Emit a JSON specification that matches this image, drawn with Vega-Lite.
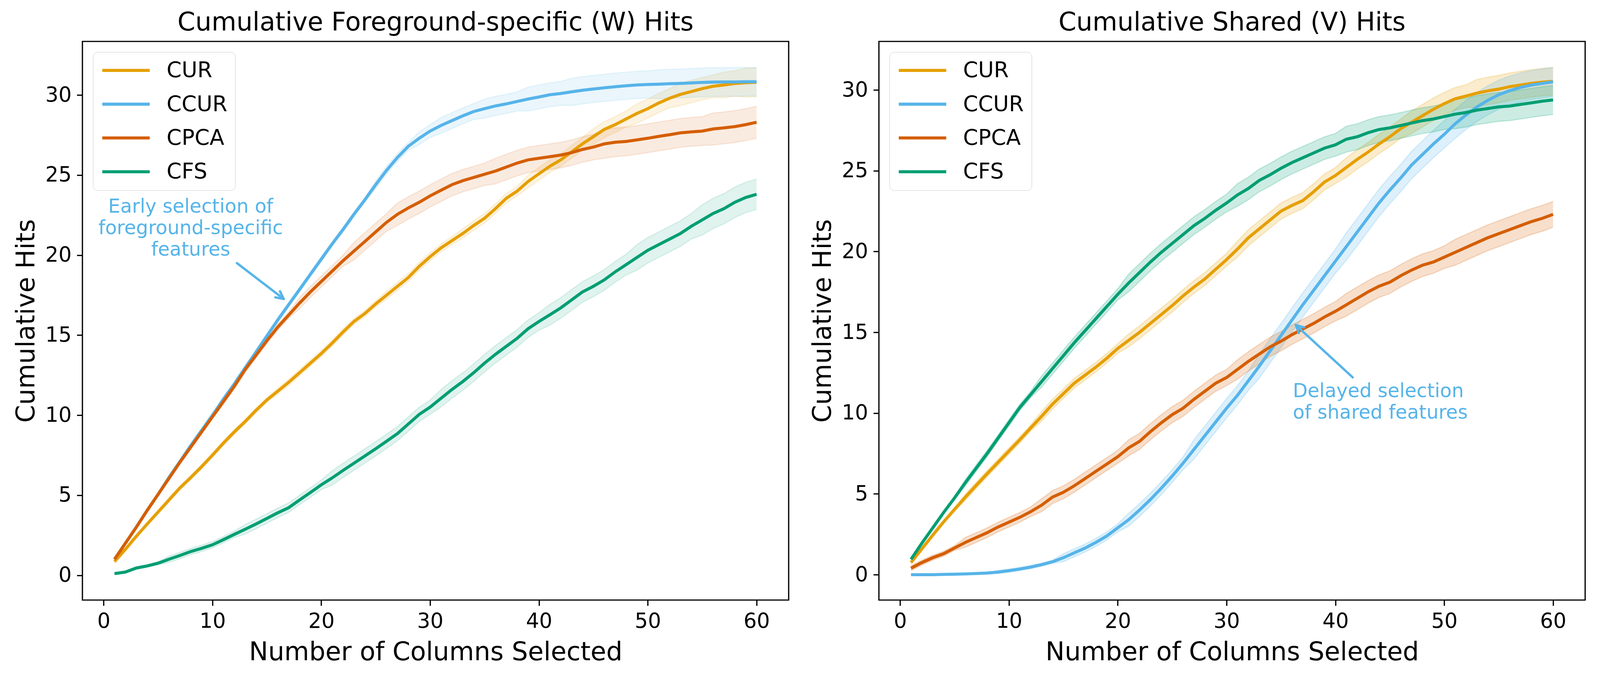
{
  "$schema": "https://vega.github.io/schema/vega-lite/v6.json",
  "padding": {"left": 34, "top": 24, "right": 40, "bottom": 35},
  "spacing": 52,
  "config": {
    "font": "DejaVu Sans",
    "view": {"stroke": "#000000", "strokeWidth": 3.2},
    "axis": {"domain": false, "grid": false, "ticks": true, "tickColor": "#000000", "tickSize": 14.3, "tickWidth": 3.2, "labelFontSize": 53, "labelColor": "#000000", "labelPadding": 13.7, "labelFont": "DejaVu Sans", "labelOverlap": false, "labelFlush": false, "titleFontSize": 65.4, "titleFontWeight": "normal", "titleColor": "#000000", "titleFont": "DejaVu Sans"},
    "axisX": {"titlePadding": 20.6},
    "axisY": {"titlePadding": 13.7},
    "title": {"fontSize": 65.4, "fontWeight": "normal", "font": "DejaVu Sans", "color": "#000000", "offset": 14.6, "anchor": "middle"},
    "legend": {"orient": "top-left", "offset": 27.4, "symbolType": "stroke", "symbolStrokeWidth": 7.8, "symbolSize": 14762, "labelFontSize": 55, "labelFont": "DejaVu Sans", "labelColor": "#000000", "labelOffset": 39, "padding": 19.6, "clipHeight": 55, "rowPadding": 30.4, "fillColor": "#ffffff", "strokeColor": "#cccccc", "cornerRadius": 12}
  },
  "resolve": {"scale": {"x": "independent", "y": "independent", "color": "independent"}, "legend": {"color": "independent"}},
  "datasets": {
    "W": [
      {"s":"CUR","x":1,"y":0.85,"e":0.1},{"s":"CUR","x":2,"y":1.62,"e":0.1},{"s":"CUR","x":3,"y":2.43,"e":0.1},{"s":"CUR","x":4,"y":3.2,"e":0.1},{"s":"CUR","x":5,"y":3.95,"e":0.1},
      {"s":"CUR","x":6,"y":4.7,"e":0.15},{"s":"CUR","x":7,"y":5.45,"e":0.15},{"s":"CUR","x":8,"y":6.1,"e":0.15},{"s":"CUR","x":9,"y":6.78,"e":0.15},{"s":"CUR","x":10,"y":7.5,"e":0.15},
      {"s":"CUR","x":11,"y":8.25,"e":0.15},{"s":"CUR","x":12,"y":8.95,"e":0.15},{"s":"CUR","x":13,"y":9.6,"e":0.15},{"s":"CUR","x":14,"y":10.3,"e":0.15},{"s":"CUR","x":15,"y":10.95,"e":0.15},
      {"s":"CUR","x":16,"y":11.5,"e":0.2},{"s":"CUR","x":17,"y":12.05,"e":0.2},{"s":"CUR","x":18,"y":12.65,"e":0.2},{"s":"CUR","x":19,"y":13.25,"e":0.2},{"s":"CUR","x":20,"y":13.85,"e":0.2},
      {"s":"CUR","x":21,"y":14.5,"e":0.2},{"s":"CUR","x":22,"y":15.2,"e":0.2},{"s":"CUR","x":23,"y":15.85,"e":0.2},{"s":"CUR","x":24,"y":16.35,"e":0.2},{"s":"CUR","x":25,"y":16.95,"e":0.2},
      {"s":"CUR","x":26,"y":17.5,"e":0.25},{"s":"CUR","x":27,"y":18.05,"e":0.25},{"s":"CUR","x":28,"y":18.6,"e":0.25},{"s":"CUR","x":29,"y":19.3,"e":0.25},{"s":"CUR","x":30,"y":19.9,"e":0.25},
      {"s":"CUR","x":31,"y":20.45,"e":0.25},{"s":"CUR","x":32,"y":20.9,"e":0.25},{"s":"CUR","x":33,"y":21.35,"e":0.3},{"s":"CUR","x":34,"y":21.85,"e":0.3},{"s":"CUR","x":35,"y":22.3,"e":0.3},
      {"s":"CUR","x":36,"y":22.9,"e":0.3},{"s":"CUR","x":37,"y":23.55,"e":0.3},{"s":"CUR","x":38,"y":24.0,"e":0.3},{"s":"CUR","x":39,"y":24.6,"e":0.4},{"s":"CUR","x":40,"y":25.08,"e":0.4},
      {"s":"CUR","x":41,"y":25.55,"e":0.4},{"s":"CUR","x":42,"y":25.95,"e":0.4},{"s":"CUR","x":43,"y":26.45,"e":0.4},{"s":"CUR","x":44,"y":26.95,"e":0.4},{"s":"CUR","x":45,"y":27.4,"e":0.5},
      {"s":"CUR","x":46,"y":27.85,"e":0.5},{"s":"CUR","x":47,"y":28.15,"e":0.5},{"s":"CUR","x":48,"y":28.5,"e":0.5},{"s":"CUR","x":49,"y":28.85,"e":0.6},{"s":"CUR","x":50,"y":29.15,"e":0.6},
      {"s":"CUR","x":51,"y":29.5,"e":0.6},{"s":"CUR","x":52,"y":29.8,"e":0.6},{"s":"CUR","x":53,"y":30.04,"e":0.7},{"s":"CUR","x":54,"y":30.22,"e":0.7},{"s":"CUR","x":55,"y":30.4,"e":0.7},
      {"s":"CUR","x":56,"y":30.55,"e":0.7},{"s":"CUR","x":57,"y":30.63,"e":0.8},{"s":"CUR","x":58,"y":30.72,"e":0.8},{"s":"CUR","x":59,"y":30.77,"e":0.9},{"s":"CUR","x":60,"y":30.8,"e":0.9},

      {"s":"CCUR","x":1,"y":1.0,"e":0.05},{"s":"CCUR","x":2,"y":2.0,"e":0.05},{"s":"CCUR","x":3,"y":3.0,"e":0.05},{"s":"CCUR","x":4,"y":4.05,"e":0.05},{"s":"CCUR","x":5,"y":5.05,"e":0.05},
      {"s":"CCUR","x":6,"y":6.1,"e":0.08},{"s":"CCUR","x":7,"y":7.1,"e":0.08},{"s":"CCUR","x":8,"y":8.1,"e":0.08},{"s":"CCUR","x":9,"y":9.05,"e":0.08},{"s":"CCUR","x":10,"y":10.0,"e":0.08},
      {"s":"CCUR","x":11,"y":11.0,"e":0.1},{"s":"CCUR","x":12,"y":11.95,"e":0.1},{"s":"CCUR","x":13,"y":12.95,"e":0.1},{"s":"CCUR","x":14,"y":13.95,"e":0.1},{"s":"CCUR","x":15,"y":14.95,"e":0.1},
      {"s":"CCUR","x":16,"y":15.95,"e":0.15},{"s":"CCUR","x":17,"y":16.9,"e":0.15},{"s":"CCUR","x":18,"y":17.85,"e":0.15},{"s":"CCUR","x":19,"y":18.8,"e":0.15},{"s":"CCUR","x":20,"y":19.75,"e":0.15},
      {"s":"CCUR","x":21,"y":20.7,"e":0.15},{"s":"CCUR","x":22,"y":21.6,"e":0.15},{"s":"CCUR","x":23,"y":22.55,"e":0.15},{"s":"CCUR","x":24,"y":23.45,"e":0.15},{"s":"CCUR","x":25,"y":24.4,"e":0.25},
      {"s":"CCUR","x":26,"y":25.3,"e":0.25},{"s":"CCUR","x":27,"y":26.1,"e":0.25},{"s":"CCUR","x":28,"y":26.8,"e":0.25},{"s":"CCUR","x":29,"y":27.3,"e":0.4},{"s":"CCUR","x":30,"y":27.75,"e":0.4},
      {"s":"CCUR","x":31,"y":28.1,"e":0.5},{"s":"CCUR","x":32,"y":28.4,"e":0.5},{"s":"CCUR","x":33,"y":28.7,"e":0.5},{"s":"CCUR","x":34,"y":28.97,"e":0.5},{"s":"CCUR","x":35,"y":29.15,"e":0.6},
      {"s":"CCUR","x":36,"y":29.32,"e":0.6},{"s":"CCUR","x":37,"y":29.45,"e":0.6},{"s":"CCUR","x":38,"y":29.6,"e":0.6},{"s":"CCUR","x":39,"y":29.75,"e":0.75},{"s":"CCUR","x":40,"y":29.88,"e":0.75},
      {"s":"CCUR","x":41,"y":30.02,"e":0.75},{"s":"CCUR","x":42,"y":30.1,"e":0.75},{"s":"CCUR","x":43,"y":30.2,"e":0.85},{"s":"CCUR","x":44,"y":30.3,"e":0.85},{"s":"CCUR","x":45,"y":30.38,"e":0.85},
      {"s":"CCUR","x":46,"y":30.45,"e":0.85},{"s":"CCUR","x":47,"y":30.52,"e":0.85},{"s":"CCUR","x":48,"y":30.58,"e":0.85},{"s":"CCUR","x":49,"y":30.63,"e":0.85},{"s":"CCUR","x":50,"y":30.66,"e":0.85},
      {"s":"CCUR","x":51,"y":30.68,"e":0.9},{"s":"CCUR","x":52,"y":30.71,"e":0.9},{"s":"CCUR","x":53,"y":30.73,"e":0.9},{"s":"CCUR","x":54,"y":30.76,"e":0.9},{"s":"CCUR","x":55,"y":30.79,"e":0.9},
      {"s":"CCUR","x":56,"y":30.81,"e":0.9},{"s":"CCUR","x":57,"y":30.82,"e":0.9},{"s":"CCUR","x":58,"y":30.82,"e":0.9},{"s":"CCUR","x":59,"y":30.83,"e":0.9},{"s":"CCUR","x":60,"y":30.83,"e":0.9},

      {"s":"CPCA","x":1,"y":1.0,"e":0.1},{"s":"CPCA","x":2,"y":2.0,"e":0.1},{"s":"CPCA","x":3,"y":3.0,"e":0.1},{"s":"CPCA","x":4,"y":4.05,"e":0.1},{"s":"CPCA","x":5,"y":5.05,"e":0.1},
      {"s":"CPCA","x":6,"y":6.05,"e":0.1},{"s":"CPCA","x":7,"y":7.05,"e":0.1},{"s":"CPCA","x":8,"y":8.0,"e":0.1},{"s":"CPCA","x":9,"y":8.95,"e":0.1},{"s":"CPCA","x":10,"y":9.9,"e":0.1},
      {"s":"CPCA","x":11,"y":10.85,"e":0.2},{"s":"CPCA","x":12,"y":11.8,"e":0.2},{"s":"CPCA","x":13,"y":12.85,"e":0.2},{"s":"CPCA","x":14,"y":13.75,"e":0.2},{"s":"CPCA","x":15,"y":14.65,"e":0.2},
      {"s":"CPCA","x":16,"y":15.5,"e":0.2},{"s":"CPCA","x":17,"y":16.25,"e":0.2},{"s":"CPCA","x":18,"y":17.0,"e":0.35},{"s":"CPCA","x":19,"y":17.7,"e":0.35},{"s":"CPCA","x":20,"y":18.35,"e":0.35},
      {"s":"CPCA","x":21,"y":19.0,"e":0.35},{"s":"CPCA","x":22,"y":19.65,"e":0.35},{"s":"CPCA","x":23,"y":20.25,"e":0.55},{"s":"CPCA","x":24,"y":20.85,"e":0.55},{"s":"CPCA","x":25,"y":21.45,"e":0.55},
      {"s":"CPCA","x":26,"y":22.05,"e":0.55},{"s":"CPCA","x":27,"y":22.55,"e":0.7},{"s":"CPCA","x":28,"y":22.95,"e":0.7},{"s":"CPCA","x":29,"y":23.3,"e":0.7},{"s":"CPCA","x":30,"y":23.7,"e":0.7},
      {"s":"CPCA","x":31,"y":24.05,"e":0.7},{"s":"CPCA","x":32,"y":24.4,"e":0.7},{"s":"CPCA","x":33,"y":24.65,"e":0.7},{"s":"CPCA","x":34,"y":24.85,"e":0.7},{"s":"CPCA","x":35,"y":25.05,"e":0.7},
      {"s":"CPCA","x":36,"y":25.25,"e":0.8},{"s":"CPCA","x":37,"y":25.5,"e":0.8},{"s":"CPCA","x":38,"y":25.75,"e":0.8},{"s":"CPCA","x":39,"y":25.95,"e":0.8},{"s":"CPCA","x":40,"y":26.05,"e":0.8},
      {"s":"CPCA","x":41,"y":26.15,"e":0.8},{"s":"CPCA","x":42,"y":26.25,"e":0.8},{"s":"CPCA","x":43,"y":26.4,"e":0.8},{"s":"CPCA","x":44,"y":26.6,"e":0.8},{"s":"CPCA","x":45,"y":26.75,"e":0.8},
      {"s":"CPCA","x":46,"y":26.95,"e":0.9},{"s":"CPCA","x":47,"y":27.05,"e":0.9},{"s":"CPCA","x":48,"y":27.1,"e":0.9},{"s":"CPCA","x":49,"y":27.2,"e":0.9},{"s":"CPCA","x":50,"y":27.3,"e":0.9},
      {"s":"CPCA","x":51,"y":27.42,"e":0.9},{"s":"CPCA","x":52,"y":27.52,"e":0.9},{"s":"CPCA","x":53,"y":27.64,"e":0.9},{"s":"CPCA","x":54,"y":27.7,"e":0.9},{"s":"CPCA","x":55,"y":27.75,"e":0.9},
      {"s":"CPCA","x":56,"y":27.88,"e":1.0},{"s":"CPCA","x":57,"y":27.95,"e":1.0},{"s":"CPCA","x":58,"y":28.03,"e":1.0},{"s":"CPCA","x":59,"y":28.15,"e":1.0},{"s":"CPCA","x":60,"y":28.3,"e":1.0},

      {"s":"CFS","x":1,"y":0.1,"e":0.05},{"s":"CFS","x":2,"y":0.2,"e":0.05},{"s":"CFS","x":3,"y":0.45,"e":0.08},{"s":"CFS","x":4,"y":0.58,"e":0.08},{"s":"CFS","x":5,"y":0.75,"e":0.1},
      {"s":"CFS","x":6,"y":1.0,"e":0.2},{"s":"CFS","x":7,"y":1.23,"e":0.2},{"s":"CFS","x":8,"y":1.48,"e":0.2},{"s":"CFS","x":9,"y":1.68,"e":0.2},{"s":"CFS","x":10,"y":1.9,"e":0.2},
      {"s":"CFS","x":11,"y":2.22,"e":0.2},{"s":"CFS","x":12,"y":2.55,"e":0.2},{"s":"CFS","x":13,"y":2.87,"e":0.3},{"s":"CFS","x":14,"y":3.2,"e":0.3},{"s":"CFS","x":15,"y":3.55,"e":0.3},
      {"s":"CFS","x":16,"y":3.9,"e":0.3},{"s":"CFS","x":17,"y":4.22,"e":0.3},{"s":"CFS","x":18,"y":4.7,"e":0.3},{"s":"CFS","x":19,"y":5.17,"e":0.3},{"s":"CFS","x":20,"y":5.65,"e":0.3},
      {"s":"CFS","x":21,"y":6.08,"e":0.45},{"s":"CFS","x":22,"y":6.55,"e":0.45},{"s":"CFS","x":23,"y":7.0,"e":0.45},{"s":"CFS","x":24,"y":7.45,"e":0.45},{"s":"CFS","x":25,"y":7.9,"e":0.45},
      {"s":"CFS","x":26,"y":8.37,"e":0.45},{"s":"CFS","x":27,"y":8.85,"e":0.45},{"s":"CFS","x":28,"y":9.45,"e":0.45},{"s":"CFS","x":29,"y":10.05,"e":0.45},{"s":"CFS","x":30,"y":10.5,"e":0.45},
      {"s":"CFS","x":31,"y":11.05,"e":0.55},{"s":"CFS","x":32,"y":11.6,"e":0.55},{"s":"CFS","x":33,"y":12.1,"e":0.55},{"s":"CFS","x":34,"y":12.65,"e":0.55},{"s":"CFS","x":35,"y":13.25,"e":0.55},
      {"s":"CFS","x":36,"y":13.8,"e":0.55},{"s":"CFS","x":37,"y":14.3,"e":0.55},{"s":"CFS","x":38,"y":14.8,"e":0.55},{"s":"CFS","x":39,"y":15.4,"e":0.55},{"s":"CFS","x":40,"y":15.85,"e":0.55},
      {"s":"CFS","x":41,"y":16.27,"e":0.65},{"s":"CFS","x":42,"y":16.7,"e":0.65},{"s":"CFS","x":43,"y":17.2,"e":0.65},{"s":"CFS","x":44,"y":17.7,"e":0.65},{"s":"CFS","x":45,"y":18.05,"e":0.65},
      {"s":"CFS","x":46,"y":18.45,"e":0.65},{"s":"CFS","x":47,"y":18.95,"e":0.65},{"s":"CFS","x":48,"y":19.4,"e":0.65},{"s":"CFS","x":49,"y":19.85,"e":0.8},{"s":"CFS","x":50,"y":20.3,"e":0.8},
      {"s":"CFS","x":51,"y":20.65,"e":0.8},{"s":"CFS","x":52,"y":21.0,"e":0.8},{"s":"CFS","x":53,"y":21.35,"e":0.8},{"s":"CFS","x":54,"y":21.8,"e":0.8},{"s":"CFS","x":55,"y":22.2,"e":0.95},
      {"s":"CFS","x":56,"y":22.6,"e":0.95},{"s":"CFS","x":57,"y":22.9,"e":0.95},{"s":"CFS","x":58,"y":23.3,"e":0.95},{"s":"CFS","x":59,"y":23.6,"e":0.95},{"s":"CFS","x":60,"y":23.8,"e":0.95}
    ],
    "V": [
      {"s":"CUR","x":1,"y":0.75,"e":0.1},{"s":"CUR","x":2,"y":1.6,"e":0.1},{"s":"CUR","x":3,"y":2.45,"e":0.1},{"s":"CUR","x":4,"y":3.27,"e":0.1},{"s":"CUR","x":5,"y":4.04,"e":0.1},
      {"s":"CUR","x":6,"y":4.8,"e":0.2},{"s":"CUR","x":7,"y":5.53,"e":0.2},{"s":"CUR","x":8,"y":6.25,"e":0.2},{"s":"CUR","x":9,"y":6.95,"e":0.2},{"s":"CUR","x":10,"y":7.65,"e":0.2},
      {"s":"CUR","x":11,"y":8.35,"e":0.2},{"s":"CUR","x":12,"y":9.08,"e":0.2},{"s":"CUR","x":13,"y":9.8,"e":0.3},{"s":"CUR","x":14,"y":10.55,"e":0.3},{"s":"CUR","x":15,"y":11.2,"e":0.3},
      {"s":"CUR","x":16,"y":11.85,"e":0.3},{"s":"CUR","x":17,"y":12.35,"e":0.3},{"s":"CUR","x":18,"y":12.85,"e":0.3},{"s":"CUR","x":19,"y":13.4,"e":0.3},{"s":"CUR","x":20,"y":14.0,"e":0.3},
      {"s":"CUR","x":21,"y":14.5,"e":0.4},{"s":"CUR","x":22,"y":15.0,"e":0.4},{"s":"CUR","x":23,"y":15.55,"e":0.4},{"s":"CUR","x":24,"y":16.1,"e":0.4},{"s":"CUR","x":25,"y":16.65,"e":0.4},
      {"s":"CUR","x":26,"y":17.25,"e":0.4},{"s":"CUR","x":27,"y":17.8,"e":0.4},{"s":"CUR","x":28,"y":18.3,"e":0.4},{"s":"CUR","x":29,"y":18.9,"e":0.4},{"s":"CUR","x":30,"y":19.5,"e":0.4},
      {"s":"CUR","x":31,"y":20.15,"e":0.5},{"s":"CUR","x":32,"y":20.85,"e":0.5},{"s":"CUR","x":33,"y":21.4,"e":0.5},{"s":"CUR","x":34,"y":21.95,"e":0.5},{"s":"CUR","x":35,"y":22.5,"e":0.5},
      {"s":"CUR","x":36,"y":22.85,"e":0.5},{"s":"CUR","x":37,"y":23.15,"e":0.5},{"s":"CUR","x":38,"y":23.7,"e":0.5},{"s":"CUR","x":39,"y":24.3,"e":0.5},{"s":"CUR","x":40,"y":24.7,"e":0.5},
      {"s":"CUR","x":41,"y":25.2,"e":0.6},{"s":"CUR","x":42,"y":25.7,"e":0.6},{"s":"CUR","x":43,"y":26.15,"e":0.6},{"s":"CUR","x":44,"y":26.65,"e":0.6},{"s":"CUR","x":45,"y":27.1,"e":0.6},
      {"s":"CUR","x":46,"y":27.6,"e":0.6},{"s":"CUR","x":47,"y":28.0,"e":0.7},{"s":"CUR","x":48,"y":28.4,"e":0.7},{"s":"CUR","x":49,"y":28.8,"e":0.7},{"s":"CUR","x":50,"y":29.15,"e":0.7},
      {"s":"CUR","x":51,"y":29.45,"e":0.7},{"s":"CUR","x":52,"y":29.62,"e":0.7},{"s":"CUR","x":53,"y":29.8,"e":0.85},{"s":"CUR","x":54,"y":29.94,"e":0.85},{"s":"CUR","x":55,"y":30.05,"e":0.85},
      {"s":"CUR","x":56,"y":30.2,"e":0.85},{"s":"CUR","x":57,"y":30.3,"e":0.85},{"s":"CUR","x":58,"y":30.4,"e":0.85},{"s":"CUR","x":59,"y":30.48,"e":0.85},{"s":"CUR","x":60,"y":30.53,"e":0.85},

      {"s":"CCUR","x":1,"y":0.0,"e":0.02},{"s":"CCUR","x":2,"y":0.0,"e":0.02},{"s":"CCUR","x":3,"y":0.0,"e":0.02},{"s":"CCUR","x":4,"y":0.02,"e":0.02},{"s":"CCUR","x":5,"y":0.03,"e":0.03},
      {"s":"CCUR","x":6,"y":0.05,"e":0.03},{"s":"CCUR","x":7,"y":0.07,"e":0.03},{"s":"CCUR","x":8,"y":0.1,"e":0.05},{"s":"CCUR","x":9,"y":0.16,"e":0.1},{"s":"CCUR","x":10,"y":0.25,"e":0.1},
      {"s":"CCUR","x":11,"y":0.35,"e":0.1},{"s":"CCUR","x":12,"y":0.47,"e":0.1},{"s":"CCUR","x":13,"y":0.62,"e":0.1},{"s":"CCUR","x":14,"y":0.8,"e":0.1},{"s":"CCUR","x":15,"y":1.05,"e":0.25},
      {"s":"CCUR","x":16,"y":1.35,"e":0.25},{"s":"CCUR","x":17,"y":1.65,"e":0.25},{"s":"CCUR","x":18,"y":2.0,"e":0.25},{"s":"CCUR","x":19,"y":2.4,"e":0.25},{"s":"CCUR","x":20,"y":2.9,"e":0.25},
      {"s":"CCUR","x":21,"y":3.4,"e":0.4},{"s":"CCUR","x":22,"y":4.0,"e":0.4},{"s":"CCUR","x":23,"y":4.65,"e":0.4},{"s":"CCUR","x":24,"y":5.35,"e":0.4},{"s":"CCUR","x":25,"y":6.1,"e":0.4},
      {"s":"CCUR","x":26,"y":6.9,"e":0.4},{"s":"CCUR","x":27,"y":7.75,"e":0.6},{"s":"CCUR","x":28,"y":8.6,"e":0.6},{"s":"CCUR","x":29,"y":9.45,"e":0.6},{"s":"CCUR","x":30,"y":10.3,"e":0.6},
      {"s":"CCUR","x":31,"y":11.1,"e":0.6},{"s":"CCUR","x":32,"y":12.0,"e":0.6},{"s":"CCUR","x":33,"y":12.9,"e":0.75},{"s":"CCUR","x":34,"y":13.85,"e":0.75},{"s":"CCUR","x":35,"y":14.8,"e":0.75},
      {"s":"CCUR","x":36,"y":15.75,"e":0.75},{"s":"CCUR","x":37,"y":16.7,"e":0.75},{"s":"CCUR","x":38,"y":17.6,"e":0.75},{"s":"CCUR","x":39,"y":18.5,"e":0.75},{"s":"CCUR","x":40,"y":19.4,"e":0.75},
      {"s":"CCUR","x":41,"y":20.3,"e":0.85},{"s":"CCUR","x":42,"y":21.2,"e":0.85},{"s":"CCUR","x":43,"y":22.1,"e":0.85},{"s":"CCUR","x":44,"y":23.0,"e":0.85},{"s":"CCUR","x":45,"y":23.8,"e":0.85},
      {"s":"CCUR","x":46,"y":24.55,"e":0.85},{"s":"CCUR","x":47,"y":25.35,"e":0.85},{"s":"CCUR","x":48,"y":26.0,"e":0.85},{"s":"CCUR","x":49,"y":26.65,"e":0.85},{"s":"CCUR","x":50,"y":27.25,"e":0.85},
      {"s":"CCUR","x":51,"y":27.9,"e":0.9},{"s":"CCUR","x":52,"y":28.45,"e":0.9},{"s":"CCUR","x":53,"y":28.95,"e":0.9},{"s":"CCUR","x":54,"y":29.35,"e":0.9},{"s":"CCUR","x":55,"y":29.7,"e":0.9},
      {"s":"CCUR","x":56,"y":29.95,"e":0.9},{"s":"CCUR","x":57,"y":30.15,"e":0.9},{"s":"CCUR","x":58,"y":30.3,"e":0.9},{"s":"CCUR","x":59,"y":30.4,"e":0.9},{"s":"CCUR","x":60,"y":30.5,"e":0.9},

      {"s":"CPCA","x":1,"y":0.4,"e":0.15},{"s":"CPCA","x":2,"y":0.75,"e":0.15},{"s":"CPCA","x":3,"y":1.05,"e":0.15},{"s":"CPCA","x":4,"y":1.3,"e":0.15},{"s":"CPCA","x":5,"y":1.65,"e":0.15},
      {"s":"CPCA","x":6,"y":2.0,"e":0.3},{"s":"CPCA","x":7,"y":2.3,"e":0.3},{"s":"CPCA","x":8,"y":2.6,"e":0.3},{"s":"CPCA","x":9,"y":2.95,"e":0.3},{"s":"CPCA","x":10,"y":3.25,"e":0.3},
      {"s":"CPCA","x":11,"y":3.55,"e":0.3},{"s":"CPCA","x":12,"y":3.9,"e":0.3},{"s":"CPCA","x":13,"y":4.3,"e":0.4},{"s":"CPCA","x":14,"y":4.8,"e":0.4},{"s":"CPCA","x":15,"y":5.1,"e":0.4},
      {"s":"CPCA","x":16,"y":5.5,"e":0.4},{"s":"CPCA","x":17,"y":5.95,"e":0.4},{"s":"CPCA","x":18,"y":6.4,"e":0.4},{"s":"CPCA","x":19,"y":6.85,"e":0.4},{"s":"CPCA","x":20,"y":7.3,"e":0.4},
      {"s":"CPCA","x":21,"y":7.85,"e":0.5},{"s":"CPCA","x":22,"y":8.25,"e":0.5},{"s":"CPCA","x":23,"y":8.85,"e":0.5},{"s":"CPCA","x":24,"y":9.4,"e":0.5},{"s":"CPCA","x":25,"y":9.9,"e":0.5},
      {"s":"CPCA","x":26,"y":10.3,"e":0.5},{"s":"CPCA","x":27,"y":10.85,"e":0.5},{"s":"CPCA","x":28,"y":11.35,"e":0.5},{"s":"CPCA","x":29,"y":11.85,"e":0.5},{"s":"CPCA","x":30,"y":12.2,"e":0.5},
      {"s":"CPCA","x":31,"y":12.7,"e":0.6},{"s":"CPCA","x":32,"y":13.2,"e":0.6},{"s":"CPCA","x":33,"y":13.65,"e":0.6},{"s":"CPCA","x":34,"y":14.1,"e":0.6},{"s":"CPCA","x":35,"y":14.45,"e":0.6},
      {"s":"CPCA","x":36,"y":14.85,"e":0.6},{"s":"CPCA","x":37,"y":15.2,"e":0.6},{"s":"CPCA","x":38,"y":15.55,"e":0.6},{"s":"CPCA","x":39,"y":15.95,"e":0.6},{"s":"CPCA","x":40,"y":16.3,"e":0.6},
      {"s":"CPCA","x":41,"y":16.7,"e":0.7},{"s":"CPCA","x":42,"y":17.1,"e":0.7},{"s":"CPCA","x":43,"y":17.5,"e":0.7},{"s":"CPCA","x":44,"y":17.85,"e":0.7},{"s":"CPCA","x":45,"y":18.1,"e":0.7},
      {"s":"CPCA","x":46,"y":18.5,"e":0.7},{"s":"CPCA","x":47,"y":18.85,"e":0.7},{"s":"CPCA","x":48,"y":19.15,"e":0.7},{"s":"CPCA","x":49,"y":19.35,"e":0.7},{"s":"CPCA","x":50,"y":19.65,"e":0.7},
      {"s":"CPCA","x":51,"y":19.95,"e":0.8},{"s":"CPCA","x":52,"y":20.25,"e":0.8},{"s":"CPCA","x":53,"y":20.55,"e":0.8},{"s":"CPCA","x":54,"y":20.85,"e":0.8},{"s":"CPCA","x":55,"y":21.1,"e":0.8},
      {"s":"CPCA","x":56,"y":21.35,"e":0.8},{"s":"CPCA","x":57,"y":21.6,"e":0.8},{"s":"CPCA","x":58,"y":21.85,"e":0.8},{"s":"CPCA","x":59,"y":22.05,"e":0.8},{"s":"CPCA","x":60,"y":22.3,"e":0.8},

      {"s":"CFS","x":1,"y":0.95,"e":0.1},{"s":"CFS","x":2,"y":1.95,"e":0.1},{"s":"CFS","x":3,"y":2.9,"e":0.1},{"s":"CFS","x":4,"y":3.85,"e":0.1},{"s":"CFS","x":5,"y":4.75,"e":0.1},
      {"s":"CFS","x":6,"y":5.7,"e":0.2},{"s":"CFS","x":7,"y":6.6,"e":0.2},{"s":"CFS","x":8,"y":7.5,"e":0.2},{"s":"CFS","x":9,"y":8.45,"e":0.2},{"s":"CFS","x":10,"y":9.4,"e":0.2},
      {"s":"CFS","x":11,"y":10.35,"e":0.2},{"s":"CFS","x":12,"y":11.15,"e":0.2},{"s":"CFS","x":13,"y":11.95,"e":0.35},{"s":"CFS","x":14,"y":12.75,"e":0.35},{"s":"CFS","x":15,"y":13.55,"e":0.35},
      {"s":"CFS","x":16,"y":14.35,"e":0.35},{"s":"CFS","x":17,"y":15.1,"e":0.35},{"s":"CFS","x":18,"y":15.85,"e":0.35},{"s":"CFS","x":19,"y":16.6,"e":0.35},{"s":"CFS","x":20,"y":17.35,"e":0.35},
      {"s":"CFS","x":21,"y":18.05,"e":0.55},{"s":"CFS","x":22,"y":18.7,"e":0.55},{"s":"CFS","x":23,"y":19.35,"e":0.55},{"s":"CFS","x":24,"y":19.95,"e":0.55},{"s":"CFS","x":25,"y":20.5,"e":0.55},
      {"s":"CFS","x":26,"y":21.05,"e":0.55},{"s":"CFS","x":27,"y":21.6,"e":0.55},{"s":"CFS","x":28,"y":22.05,"e":0.55},{"s":"CFS","x":29,"y":22.55,"e":0.55},{"s":"CFS","x":30,"y":23.0,"e":0.55},
      {"s":"CFS","x":31,"y":23.5,"e":0.7},{"s":"CFS","x":32,"y":23.9,"e":0.7},{"s":"CFS","x":33,"y":24.4,"e":0.7},{"s":"CFS","x":34,"y":24.75,"e":0.7},{"s":"CFS","x":35,"y":25.15,"e":0.7},
      {"s":"CFS","x":36,"y":25.5,"e":0.7},{"s":"CFS","x":37,"y":25.8,"e":0.7},{"s":"CFS","x":38,"y":26.1,"e":0.7},{"s":"CFS","x":39,"y":26.4,"e":0.7},{"s":"CFS","x":40,"y":26.6,"e":0.7},
      {"s":"CFS","x":41,"y":26.95,"e":0.8},{"s":"CFS","x":42,"y":27.1,"e":0.8},{"s":"CFS","x":43,"y":27.35,"e":0.8},{"s":"CFS","x":44,"y":27.55,"e":0.8},{"s":"CFS","x":45,"y":27.65,"e":0.8},
      {"s":"CFS","x":46,"y":27.8,"e":0.8},{"s":"CFS","x":47,"y":27.95,"e":0.8},{"s":"CFS","x":48,"y":28.1,"e":0.8},{"s":"CFS","x":49,"y":28.2,"e":0.8},{"s":"CFS","x":50,"y":28.35,"e":0.8},
      {"s":"CFS","x":51,"y":28.5,"e":0.9},{"s":"CFS","x":52,"y":28.6,"e":0.9},{"s":"CFS","x":53,"y":28.75,"e":0.9},{"s":"CFS","x":54,"y":28.85,"e":0.9},{"s":"CFS","x":55,"y":28.95,"e":0.9},
      {"s":"CFS","x":56,"y":29.0,"e":0.9},{"s":"CFS","x":57,"y":29.1,"e":0.9},{"s":"CFS","x":58,"y":29.2,"e":0.9},{"s":"CFS","x":59,"y":29.3,"e":0.9},{"s":"CFS","x":60,"y":29.38,"e":0.9}
    ]
  },
  "hconcat": [
    {
      "width": 1808,
      "height": 1429,
      "title": "Cumulative Foreground-specific (W) Hits",
      "encoding": {
        "x": {"field": "x", "type": "quantitative", "scale": {"domain": [-1.95, 62.95], "nice": false, "zero": false}, "axis": {"title": "Number of Columns Selected", "values": [0, 10, 20, 30, 40, 50, 60], "format": "d"}},
        "y": {"field": "y", "type": "quantitative", "scale": {"domain": [-1.55, 33.35], "nice": false, "zero": false}, "axis": {"title": "Cumulative Hits", "values": [0, 5, 10, 15, 20, 25, 30], "format": "d"}}
      },
      "layer": [
        {"data": {"name": "W"}, "transform": [{"filter": "datum.s === 'CUR'"}], "mark": {"type": "errorband", "color": "#E69F00", "band": {"opacity": 0.12}, "borders": {"opacity": 0.12, "strokeWidth": 3}}, "encoding": {"yError": {"field": "e"}}},
        {"data": {"name": "W"}, "transform": [{"filter": "datum.s === 'CCUR'"}], "mark": {"type": "errorband", "color": "#56B4E9", "band": {"opacity": 0.12}, "borders": {"opacity": 0.12, "strokeWidth": 3}}, "encoding": {"yError": {"field": "e"}}},
        {"data": {"name": "W"}, "transform": [{"filter": "datum.s === 'CPCA'"}], "mark": {"type": "errorband", "color": "#D55E00", "band": {"opacity": 0.12}, "borders": {"opacity": 0.12, "strokeWidth": 3}}, "encoding": {"yError": {"field": "e"}}},
        {"data": {"name": "W"}, "transform": [{"filter": "datum.s === 'CFS'"}], "mark": {"type": "errorband", "color": "#009E73", "band": {"opacity": 0.12}, "borders": {"opacity": 0.12, "strokeWidth": 3}}, "encoding": {"yError": {"field": "e"}}},
        {
          "data": {"name": "W"},
          "mark": {"type": "line", "strokeWidth": 7.8},
          "encoding": {
            "color": {"field": "s", "type": "nominal", "sort": ["CUR", "CCUR", "CPCA", "CFS"], "scale": {"domain": ["CUR", "CCUR", "CPCA", "CFS"], "range": ["#E69F00", "#56B4E9", "#D55E00", "#009E73"]}, "legend": {"title": null, "symbolType": "stroke"}}
          }
        },
        {
          "data": {"values": [{"x": 12.25, "y": 19.5, "x2": 16.55, "y2": 17.26}]},
          "mark": {"type": "rule", "color": "#56B4E9", "strokeWidth": 5.9, "strokeCap": "round"},
          "encoding": {"x2": {"field": "x2"}, "y2": {"field": "y2"}}
        },
        {
          "data": {"values": [{"x": 12.25, "y": 19.5, "x2": 16.55, "y2": 17.26}]},
          "mark": {"type": "point", "shape": "M -1 -0.5 L 0 0 L -1 0.5", "filled": false, "size": 1537, "strokeWidth": 5.9, "color": "#56B4E9", "opacity": 1, "angle": 37.5, "strokeCap": "round", "strokeJoin": "round"},
          "encoding": {"x": {"field": "x2", "type": "quantitative"}, "y": {"field": "y2", "type": "quantitative"}}
        },
        {
          "data": {"values": [{"x": 8.0, "y": 23.02, "t": "Early selection of\nforeground-specific\nfeatures"}]},
          "mark": {"type": "text", "fontSize": 49, "font": "DejaVu Sans", "color": "#56B4E9", "align": "center", "baseline": "middle", "lineBreak": "\n", "lineHeight": 55},
          "encoding": {"text": {"field": "t"}}
        }
      ]
    },
    {
      "width": 1808,
      "height": 1429,
      "title": "Cumulative Shared (V) Hits",
      "encoding": {
        "x": {"field": "x", "type": "quantitative", "scale": {"domain": [-1.95, 62.95], "nice": false, "zero": false}, "axis": {"title": "Number of Columns Selected", "values": [0, 10, 20, 30, 40, 50, 60], "format": "d"}},
        "y": {"field": "y", "type": "quantitative", "scale": {"domain": [-1.57, 33.0], "nice": false, "zero": false}, "axis": {"title": "Cumulative Hits", "values": [0, 5, 10, 15, 20, 25, 30], "format": "d"}}
      },
      "layer": [
        {"data": {"name": "V"}, "transform": [{"filter": "datum.s === 'CUR'"}], "mark": {"type": "errorband", "color": "#E69F00", "band": {"opacity": 0.2}, "borders": {"opacity": 0.2, "strokeWidth": 3}}, "encoding": {"yError": {"field": "e"}}},
        {"data": {"name": "V"}, "transform": [{"filter": "datum.s === 'CCUR'"}], "mark": {"type": "errorband", "color": "#56B4E9", "band": {"opacity": 0.2}, "borders": {"opacity": 0.2, "strokeWidth": 3}}, "encoding": {"yError": {"field": "e"}}},
        {"data": {"name": "V"}, "transform": [{"filter": "datum.s === 'CPCA'"}], "mark": {"type": "errorband", "color": "#D55E00", "band": {"opacity": 0.2}, "borders": {"opacity": 0.2, "strokeWidth": 3}}, "encoding": {"yError": {"field": "e"}}},
        {"data": {"name": "V"}, "transform": [{"filter": "datum.s === 'CFS'"}], "mark": {"type": "errorband", "color": "#009E73", "band": {"opacity": 0.2}, "borders": {"opacity": 0.2, "strokeWidth": 3}}, "encoding": {"yError": {"field": "e"}}},
        {
          "data": {"name": "V"},
          "mark": {"type": "line", "strokeWidth": 7.8},
          "encoding": {
            "color": {"field": "s", "type": "nominal", "sort": ["CUR", "CCUR", "CPCA", "CFS"], "scale": {"domain": ["CUR", "CCUR", "CPCA", "CFS"], "range": ["#E69F00", "#56B4E9", "#D55E00", "#009E73"]}, "legend": {"title": null, "symbolType": "stroke"}}
          }
        },
        {
          "data": {"values": [{"x": 41.59, "y": 12.21, "x2": 36.36, "y2": 15.45}]},
          "mark": {"type": "rule", "color": "#56B4E9", "strokeWidth": 5.9, "strokeCap": "round"},
          "encoding": {"x2": {"field": "x2"}, "y2": {"field": "y2"}}
        },
        {
          "data": {"values": [{"x": 41.59, "y": 12.21, "x2": 36.36, "y2": 15.45}]},
          "mark": {"type": "point", "shape": "M -1 -0.5 L 0 0 L -1 0.5", "filled": false, "size": 1537, "strokeWidth": 5.9, "color": "#56B4E9", "opacity": 1, "angle": 222.6, "strokeCap": "round", "strokeJoin": "round"},
          "encoding": {"x": {"field": "x2", "type": "quantitative"}, "y": {"field": "y2", "type": "quantitative"}}
        },
        {
          "data": {"values": [{"x": 36.09, "y": 11.34, "t": "Delayed selection\nof shared features"}]},
          "mark": {"type": "text", "fontSize": 49, "font": "DejaVu Sans", "color": "#56B4E9", "align": "left", "baseline": "middle", "lineBreak": "\n", "lineHeight": 55},
          "encoding": {"text": {"field": "t"}}
        }
      ]
    }
  ]
}
